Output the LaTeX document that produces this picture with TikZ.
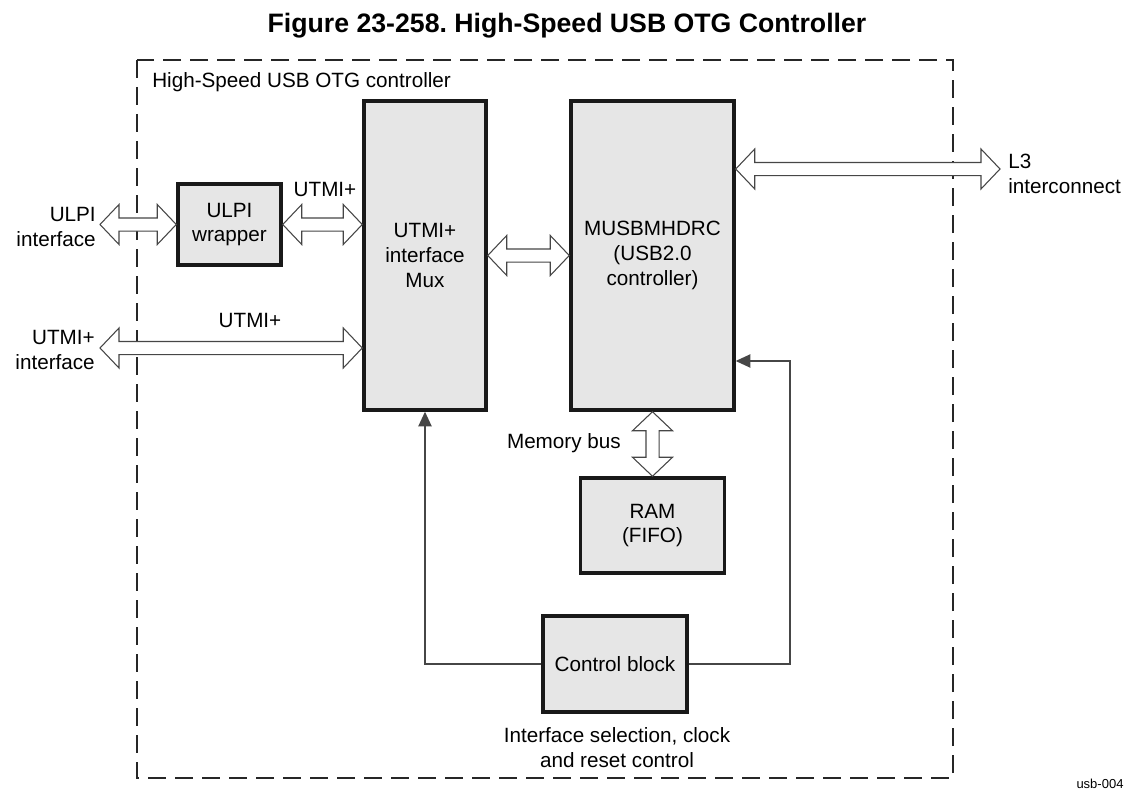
\documentclass[tikz,border=0pt]{standalone}
\usepackage{fontspec}
\setmainfont{Liberation Sans}
\usepackage{xcolor}
\usepackage{tikz}
\usetikzlibrary{calc,arrows.meta}
\frenchspacing

\definecolor{blockgray}{RGB}{230,230,230}
\definecolor{linegray}{RGB}{70,70,70}

% hollow two-headed bus arrow between two named points
\newcommand{\busarrow}[2]{%
  \path ($(#1)!14.25pt!(#2)$) coordinate (bh1)
        ($(#2)!14.25pt!(#1)$) coordinate (bh2);
  \draw[bus] (#1)
    -- ($(bh1)!15pt!90:(#2)$) -- ($(bh1)!4.9pt!90:(#2)$)
    -- ($(bh2)!4.9pt!-90:(#1)$) -- ($(bh2)!15pt!-90:(#1)$)
    -- (#2)
    -- ($(bh2)!15pt!90:(#1)$) -- ($(bh2)!4.9pt!90:(#1)$)
    -- ($(bh1)!4.9pt!-90:(#2)$) -- ($(bh1)!15pt!-90:(#2)$)
    -- cycle;}

\tikzset{
  block/.style={draw=black!90, line width=2.6pt, fill=blockgray, align=center, inner sep=0pt},
  bus/.style={draw=linegray, fill=white, line width=0.8pt, line join=miter},
  ctl/.style={draw=linegray, line width=0.9pt, -{Triangle[length=11pt,width=10pt]}},
  frame/.style={draw=black!85, line width=2.2pt, dash pattern=on 13.5pt off 6.75pt},
  lbl/.style={inner sep=0pt, align=center}
}

\begin{document}
\begin{tikzpicture}[x=0.75pt, y=-0.75pt, font=\fontsize{15.5}{18.6}\selectfont]
  \useasboundingbox (0,0) rectangle (1129,792);
  % Title
  \node[lbl, anchor=base, font=\fontsize{20}{24}\selectfont\bfseries] (title) at (567,33)
    {Figure 23-258. High-Speed USB OTG Controller};
  % Dashed controller frame
  \coordinate (frameNW) at (137,60);
  \coordinate (frameSE) at (953,778);
  \draw[frame] (frameNW) rectangle (frameSE);
  \node[lbl, anchor=base west] (frameLbl) at (152,88) {High-Speed USB OTG controller};
  % Blocks
  \node[block, minimum width=77.25pt, minimum height=60.75pt] (ulpi) at (229.5,224.5) {ULPI\\wrapper};
  \node[block, minimum width=91.5pt, minimum height=231.75pt] (mux) at (425,255.5) {UTMI+\\interface\\Mux};
  \node[block, minimum width=122.25pt, minimum height=231.75pt] (musb) at (652.5,255.5) {MUSBMHDRC\\(USB2.0\\controller)};
  \node[block, minimum width=108pt, minimum height=71.25pt] (ram) at (652.5,525.5) {RAM\\(FIFO)};
  \node[block, minimum width=108pt, minimum height=72pt] (ctrl) at (615,664) {Control block};
  % Bus end points
  \coordinate (ulpiIn) at (100,224.5);
  \coordinate (utmiIn) at (100,348);
  \coordinate (l3Out) at (1000,169);
  \coordinate (muxUlpi) at (ulpi.east -| mux.west);
  \coordinate (muxUtmi) at (utmiIn -| mux.west);
  \coordinate (musbL3) at (l3Out -| musb.east);
  % Buses
  \busarrow{ulpiIn}{ulpi.west}
  \busarrow{ulpi.east}{muxUlpi}
  \busarrow{utmiIn}{muxUtmi}
  \busarrow{mux.east}{musb.west}
  \busarrow{musbL3}{l3Out}
  \busarrow{musb.south}{ram.north}
  % Control lines
  \coordinate (ctlTurn) at (790,361);
  \draw[ctl] (ctrl.west) -| (mux.south);
  \draw[ctl] (ctrl.east) -| (ctlTurn) -- (ctlTurn -| musb.east);
  % Labels
  \node[lbl, anchor=east, align=right] (ulpiLbl) at (96,227) {ULPI\\interface};
  \node[lbl, anchor=east, align=right] (utmiLbl) at (95,350) {UTMI+\\interface};
  \node[lbl, anchor=west, align=left] (l3Lbl) at (1008,174) {L3\\interconnect};
  \node[lbl, anchor=base] (utmiTop) at (325,196) {UTMI+};
  \node[lbl, anchor=base] (utmiLow) at (250,327) {UTMI+};
  \node[lbl, anchor=base east] (memLbl) at (621,448) {Memory bus};
  \node[lbl] (ctrlLbl) at (617,748) {Interface selection, clock\\and reset control};
  \node[lbl, anchor=base, font=\fontsize{9.75}{11}\selectfont] (figId) at (1100,788) {usb-004};
\end{tikzpicture}
\end{document}
